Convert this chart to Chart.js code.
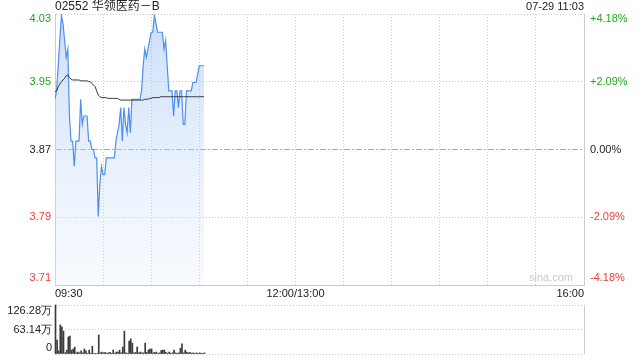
<!DOCTYPE html>
<html>
<head>
<meta charset="utf-8">
<script src="https://cdn.jsdelivr.net/npm/chart.js@4.4.0/dist/chart.umd.min.js"></script>
<style>
  html, body { margin: 0; padding: 0; background: #fff; }
  #wrap { position: relative; width: 640px; height: 360px; }
  canvas { position: absolute; left: 0; top: 0; }
</style>
</head>
<body>
<div id="wrap">
  <canvas id="price" width="640" height="360"></canvas>
  <canvas id="vol" width="640" height="360"></canvas>
</div>
<script>
// header
const stockTitle = "02552 华领医药－B";
const stamp = "07-29 11:03";
const prevClose = 3.87;

// y ticks (price on the left, change on the right)
const pctSteps = [4.18, 2.09, 0, -2.09, -4.18];
const priceLabels = ["4.03", "3.95", "3.87", "3.79", "3.71"];
const pctLabels = ["+4.18%", "+2.09%", "0.00%", "-2.09%", "-4.18%"];

// x: minutes from 09:30, trading day is 330 minutes
const gridMinutes = [0, 30, 60, 90, 120, 150, 180, 210, 240, 270, 300, 330];
const timeTicks = [0, 150, 330];
const timeLabels = ["09:30", "12:00/13:00", "16:00"];

// volume ticks (万)
const volTicks = [0, 63.14, 126.28];
const volLabels = ["0", "63.14万", "126.28万"];

// one value per minute, 09:30 .. 11:03
const prices = [
  3.93, 3.94, 3.97, 4.00, 4.03, 4.02, 4.00, 3.98, 3.99, 3.91,
  3.88, 3.88, 3.85, 3.88, 3.88, 3.88, 3.93, 3.90, 3.91, 3.91,
  3.91, 3.88, 3.88, 3.87, 3.87, 3.86, 3.86, 3.79, 3.83, 3.85,
  3.84, 3.84, 3.86, 3.86, 3.86, 3.86, 3.86, 3.86, 3.88, 3.89,
  3.90, 3.92, 3.88, 3.92, 3.90, 3.89, 3.92, 3.89, 3.93, 3.93,
  3.93, 3.93, 3.93, 3.93, 3.94, 3.97, 3.99, 3.98, 3.99, 4.00,
  4.01, 4.01, 4.03, 4.02, 4.01, 4.01, 4.01, 4.01, 3.99, 4.00,
  3.97, 3.94, 3.94, 3.94, 3.91, 3.94, 3.94, 3.92, 3.94, 3.94,
  3.90, 3.90, 3.94, 3.94, 3.94, 3.94, 3.95, 3.95, 3.95, 3.96,
  3.97, 3.97, 3.97, 3.97
];

const avgPrices = [
  3.939, 3.940, 3.945, 3.948, 3.951, 3.953, 3.955, 3.958, 3.959, 3.956,
  3.954, 3.953, 3.953, 3.953, 3.953, 3.953, 3.952, 3.952, 3.952, 3.952,
  3.952, 3.951, 3.951, 3.949, 3.947, 3.945, 3.940, 3.935, 3.933, 3.932,
  3.932, 3.932, 3.932, 3.931, 3.931, 3.931, 3.931, 3.931, 3.931, 3.931,
  3.930, 3.929, 3.929, 3.929, 3.929, 3.929, 3.929, 3.929, 3.929, 3.929,
  3.929, 3.929, 3.929, 3.929, 3.929, 3.929, 3.930, 3.930, 3.930, 3.931,
  3.931, 3.932, 3.932, 3.932, 3.932, 3.932, 3.933, 3.933, 3.933, 3.933,
  3.933, 3.933, 3.933, 3.933, 3.933, 3.933, 3.933, 3.933, 3.933, 3.933,
  3.933, 3.933, 3.933, 3.933, 3.933, 3.933, 3.933, 3.933, 3.933, 3.933,
  3.933, 3.933, 3.933, 3.933
];

const volumes = [
  126.28, 36, 8, 75, 70, 59, 3, 10, 44, 46,
  10, 13, 18, 3, 5, 3, 8, 3, 13, 8,
  2, 10, 2, 20, 2, 1, 2, 49, 3, 5,
  3, 4, 2, 3, 4, 2, 10, 2, 5, 5,
  10, 3, 18, 59, 3, 2, 33, 39, 28, 3,
  4, 18, 3, 5, 3, 3, 28, 4, 10, 13,
  13, 3, 4, 5, 2, 3, 9, 10, 10, 4,
  2, 5, 2, 3, 10, 3, 2, 3, 15, 26,
  3, 10, 5, 3, 4, 2, 3, 2, 3, 2,
  3, 2, 2, 3
];

const upColor = "#22a722";
const downColor = "#f03a3a";
const textColor = "#222";
const gridColor = "#c8c8c8";
const axisColor = "#cccccc";
const font11 = '11px "Liberation Sans", Arial, sans-serif';
const font12 = '12px "Liberation Sans", Arial, "Noto Sans CJK SC", sans-serif';

const yMin = prevClose * (1 - 4.18 / 100);
const yMax = prevClose * (1 + 4.18 / 100);

const priceText = {
  id: "priceText",
  afterDraw(chart) {
    const { ctx, chartArea: a, scales: { x, y } } = chart;
    ctx.save();
    ctx.font = font11;
    ctx.textBaseline = "middle";
    pctSteps.forEach((p, i) => {
      const py = y.getPixelForValue(prevClose * (1 + p / 100));
      const ly = Math.min(Math.max(py, a.top + 5), a.bottom - 7);
      ctx.fillStyle = p > 0 ? upColor : p < 0 ? downColor : textColor;
      ctx.textAlign = "right";
      ctx.fillText(priceLabels[i], a.left - 4, ly);
      ctx.textAlign = "left";
      ctx.fillText(pctLabels[i], a.right + 6, ly);
    });
    ctx.fillStyle = textColor;
    timeTicks.forEach((t, i) => {
      ctx.textAlign = i === 0 ? "left" : i === timeTicks.length - 1 ? "right" : "center";
      ctx.fillText(timeLabels[i], x.getPixelForValue(t), a.bottom + 9);
    });
    ctx.textAlign = "right";
    ctx.fillText(stamp, a.right, 7);
    ctx.fillStyle = "#c8c8c8";
    ctx.fillText("sina.com", a.right - 11, a.bottom - 7);
    ctx.font = font12;
    ctx.fillStyle = textColor;
    ctx.textAlign = "left";
    ctx.fillText(stockTitle, a.left, 7);
    ctx.restore();
  }
};

const volText = {
  id: "volText",
  afterDraw(chart) {
    const { ctx, chartArea: a, scales: { y } } = chart;
    ctx.save();
    ctx.font = font11;
    ctx.textBaseline = "middle";
    ctx.textAlign = "right";
    ctx.fillStyle = textColor;
    volTicks.forEach((v, i) => {
      const py = y.getPixelForValue(v);
      const ly = Math.min(Math.max(py, a.top + 6), a.bottom - 6);
      ctx.fillText(volLabels[i], a.left - 3.5, ly);
    });
    ctx.restore();
  }
};

function fillGradient(c) {
  const a = c.chart.chartArea;
  if (!a) return "rgba(200,220,250,0.5)";
  const g = c.chart.ctx.createLinearGradient(0, a.top, 0, a.bottom);
  g.addColorStop(0, "rgba(150,190,245,0.5)");
  g.addColorStop(1, "rgba(225,236,252,0.25)");
  return g;
}

const isPrev = v => Math.abs(v - prevClose) < 1e-6;

new Chart(document.getElementById("price"), {
  type: "line",
  data: {
    datasets: [
      {
        data: avgPrices.map((p, i) => ({ x: i, y: p })),
        borderColor: "#333",
        borderWidth: 1,
        pointRadius: 0,
        fill: false,
        order: 0
      },
      {
        data: prices.map((p, i) => ({ x: i, y: p })),
        borderColor: "#4f8ff0",
        borderWidth: 1.2,
        pointRadius: 0,
        fill: "start",
        backgroundColor: fillGradient,
        order: 1
      }
    ]
  },
  options: {
    responsive: false,
    animation: false,
    layout: { padding: { left: 55, right: 56, top: 14, bottom: 75 } },
    plugins: { legend: { display: false }, tooltip: { enabled: false } },
    scales: {
      x: {
        type: "linear",
        min: 0,
        max: 330,
        afterBuildTicks: s => { s.ticks = gridMinutes.map(v => ({ value: v })); },
        ticks: { display: false },
        grid: {
          drawTicks: false,
          color: c => (c.tick && c.tick.value === 0 ? "rgba(0,0,0,0)" : c.tick && c.tick.value === 330 ? axisColor : gridColor)
        },
        border: {
          color: axisColor,
          dash: c => (c.tick && c.tick.value === 330 ? [] : [1, 2])
        }
      },
      y: {
        min: yMin,
        max: yMax,
        afterBuildTicks: s => { s.ticks = pctSteps.map(p => ({ value: prevClose * (1 + p / 100) })); },
        ticks: { display: false },
        grid: {
          drawTicks: false,
          color: c => (c.tick && isPrev(c.tick.value) ? "#aaa" : gridColor)
        },
        border: {
          color: axisColor,
          dash: c => (c.tick && isPrev(c.tick.value) ? [6, 2, 2, 2] : [1, 2])
        }
      }
    }
  },
  plugins: [priceText]
});

new Chart(document.getElementById("vol"), {
  type: "bar",
  data: {
    datasets: [{
      data: volumes.map((v, i) => ({ x: i, y: v })),
      backgroundColor: "#3a3a3a",
      barThickness: 1,
      clip: false
    }]
  },
  options: {
    responsive: false,
    animation: false,
    layout: { padding: { left: 55.5, right: 56, top: 305, bottom: 6 } },
    plugins: { legend: { display: false }, tooltip: { enabled: false } },
    scales: {
      x: {
        type: "linear",
        min: 0,
        max: 330,
        offset: false,
        afterBuildTicks: s => { s.ticks = [{ value: 330 }]; },
        ticks: { display: false },
        grid: { offset: false, drawTicks: false, color: axisColor },
        border: { display: false }
      },
      y: {
        min: 0,
        max: 126.28,
        afterBuildTicks: s => { s.ticks = volTicks.map(v => ({ value: v })); },
        ticks: { display: false },
        grid: { drawTicks: false, color: gridColor },
        border: { color: axisColor, dash: [1, 2] }
      }
    }
  },
  plugins: [volText]
});
</script>
</body>
</html>
